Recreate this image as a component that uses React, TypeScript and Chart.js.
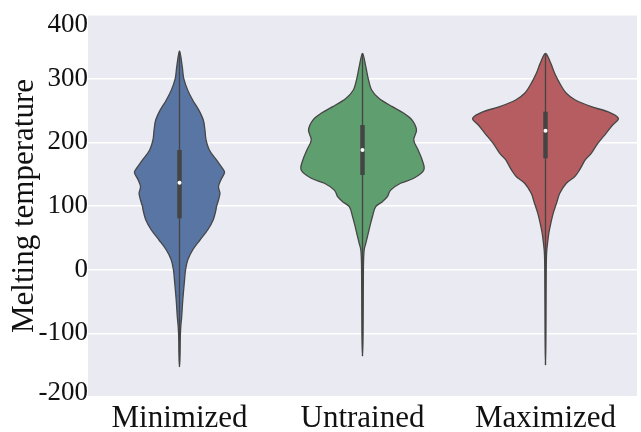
import { useEffect, useRef } from "react";
import { Chart, registerables } from "chart.js";

Chart.register(...registerables);

const categories = ["Minimized", "Untrained", "Maximized"];
const yTickValues = [-200, -100, 0, 100, 200, 300, 400];

// violin outlines: value levels (top to bottom) and half-widths (in category units)
const minimizedLevels = [343.5, 318.8, 300.6, 282, 266.5, 251, 235, 219.4, 203.7, 188, 172.3, 159, 152.3, 141, 130.3, 120, 109.4, 99, 93.7, 78, 62.3, 46.6, 30.9, 15.2, -0.5, -21.4, -47.6, -73.9, -89.6, -110.4, -131.3, -152.4];
const minimizedDensity = [0, 0.015, 0.023, 0.045, 0.072, 0.105, 0.13, 0.139, 0.145, 0.163, 0.202, 0.235, 0.246, 0.226, 0.213, 0.221, 0.213, 0.202, 0.199, 0.184, 0.154, 0.112, 0.072, 0.045, 0.033, 0.026, 0.018, 0.012, 0.007, 0.004, 0.003, 0];

const untrainedLevels = [339.8, 318.8, 300.6, 282.2, 269, 256, 245.6, 235, 219.4, 203.7, 188, 172.3, 156.6, 143.5, 135.7, 125, 114.6, 106.8, 98.9, 83.2, 67.5, 51.8, 41.4, 30.9, 15, 0, -50, -100, -135.6];
const untrainedDensity = [0, 0.018, 0.031, 0.05, 0.091, 0.163, 0.226, 0.271, 0.295, 0.28, 0.304, 0.326, 0.335, 0.28, 0.208, 0.154, 0.136, 0.109, 0.072, 0.054, 0.04, 0.027, 0.018, 0.009, 0.006, 0.005, 0.004, 0.003, 0];

const maximizedLevels = [339.8, 324, 308.4, 292.7, 277, 266.5, 256, 248.1, 237.8, 227.2, 214.2, 198.5, 182.8, 172.3, 156.6, 146, 135.7, 120, 104.2, 88.5, 72.8, 57.1, 41.4, 25.7, 0, -50, -100, -149.7];
const maximizedDensity = [0, 0.029, 0.05, 0.078, 0.114, 0.163, 0.25, 0.34, 0.398, 0.367, 0.331, 0.286, 0.25, 0.217, 0.186, 0.159, 0.114, 0.078, 0.06, 0.042, 0.029, 0.018, 0.011, 0.006, 0.004, 0.003, 0.002, 0];

const medians = [136.6, 188, 218.3];
const quartile1 = [80.7, 148.7, 174.9];
const quartile3 = [188, 227.2, 248.1];
const whiskerLow = [-152.4, -135.6, -149.7];
const whiskerHigh = [343.5, 339.8, 339.8];

const violinColors = ["#5975a4", "#5f9e6e", "#b55d60"];

const violins = [
  { levels: minimizedLevels, density: minimizedDensity },
  { levels: untrainedLevels, density: untrainedDensity },
  { levels: maximizedLevels, density: maximizedDensity },
];

const FONT = "'Liberation Serif', 'Times New Roman', serif";

function smoothClosedPath(ctx: CanvasRenderingContext2D, pts: number[][]) {
  const n = pts.length;
  ctx.moveTo(pts[0][0], pts[0][1]);
  for (let i = 0; i < n; i++) {
    const p0 = pts[(i - 1 + n) % n];
    const p1 = pts[i];
    const p2 = pts[(i + 1) % n];
    const p3 = pts[(i + 2) % n];
    const c1x = p1[0] + (p2[0] - p0[0]) / 6;
    const c1y = p1[1] + (p2[1] - p0[1]) / 6;
    const c2x = p2[0] - (p3[0] - p1[0]) / 6;
    const c2y = p2[1] - (p3[1] - p1[1]) / 6;
    ctx.bezierCurveTo(c1x, c1y, c2x, c2y, p2[0], p2[1]);
  }
  ctx.closePath();
}

const backgroundPlugin = {
  id: "bgArea",
  beforeDraw(chart: any) {
    const { ctx, chartArea } = chart;
    ctx.save();
    ctx.fillStyle = "#eaeaf2";
    ctx.fillRect(chartArea.left, chartArea.top, chartArea.right - chartArea.left, chartArea.bottom - chartArea.top);
    ctx.restore();
  },
};

const violinPlugin = {
  id: "violins",
  beforeDatasetsDraw(chart: any) {
    const { ctx, chartArea } = chart;
    const xs = chart.scales.x;
    const ys = chart.scales.y;
    ctx.save();
    ctx.beginPath();
    ctx.rect(chartArea.left, chartArea.top, chartArea.right - chartArea.left, chartArea.bottom - chartArea.top);
    ctx.clip();
    violins.forEach((v, i) => {
      const right = v.levels.map((lv, k) => [xs.getPixelForValue(i + v.density[k]), ys.getPixelForValue(lv)]);
      const left = v.levels
        .map((lv, k) => [xs.getPixelForValue(i - v.density[k]), ys.getPixelForValue(lv)])
        .slice(1, -1)
        .reverse();
      const pts = right.concat(left);
      ctx.beginPath();
      smoothClosedPath(ctx, pts);
      ctx.fillStyle = violinColors[i];
      ctx.fill();
      ctx.lineWidth = 1.3;
      ctx.strokeStyle = "#464646";
      ctx.lineJoin = "round";
      ctx.stroke();

      const cx = xs.getPixelForValue(i);
      ctx.beginPath();
      ctx.moveTo(cx, ys.getPixelForValue(whiskerHigh[i]));
      ctx.lineTo(cx, ys.getPixelForValue(whiskerLow[i]));
      ctx.lineWidth = 1.3;
      ctx.strokeStyle = "#444444";
      ctx.stroke();

      ctx.beginPath();
      ctx.moveTo(cx, ys.getPixelForValue(quartile3[i]));
      ctx.lineTo(cx, ys.getPixelForValue(quartile1[i]));
      ctx.lineWidth = 4.5;
      ctx.strokeStyle = "#444444";
      ctx.stroke();
    });
    ctx.restore();
  },
};

export default function App() {
  const ref = useRef<HTMLCanvasElement | null>(null);
  useEffect(() => {
    document.body.style.margin = "0";
    const canvas = ref.current;
    if (!canvas) return;
    const chart = new Chart(canvas, {
      type: "scatter",
      data: {
        datasets: [
          {
            label: "median",
            data: categories.map((_, i) => ({ x: i, y: medians[i] })),
            pointRadius: 2,
            pointBackgroundColor: "#ffffff",
            pointBorderWidth: 0,
            pointBorderColor: "#ffffff",
          },
        ],
      },
      options: {
        animation: false,
        responsive: false,
        devicePixelRatio: 1,
        layout: { padding: { top: 15, left: 0, right: 0, bottom: 0 } },
        plugins: { legend: { display: false }, tooltip: { enabled: false } },
        scales: {
          x: {
            type: "linear",
            min: -0.5,
            max: 2.5,
            afterBuildTicks: (scale: any) => {
              scale.ticks = categories.map((_, i) => ({ value: i }));
            },
            afterFit: (scale: any) => {
              scale.height = 35;
              scale.paddingLeft = 0;
              scale.paddingRight = 0;
            },
            grid: { display: false, drawTicks: false },
            border: { display: false },
            ticks: {
              autoSkip: false,
              maxRotation: 0,
              padding: 3,
              color: "#111111",
              font: { family: FONT, size: 31 },
              callback: (v: any) => categories[Number(v)] ?? "",
            },
          },
          y: {
            min: -200,
            max: 400,
            afterBuildTicks: (scale: any) => {
              scale.ticks = yTickValues.map((v) => ({ value: v }));
            },
            afterFit: (scale: any) => {
              scale.width = 88;
              scale.paddingTop = 0;
              scale.paddingBottom = 0;
              const orig = scale._computeLabelItems;
              if (typeof orig === "function" && !scale.__wrapped) {
                scale.__wrapped = true;
                scale._computeLabelItems = function (ca: any) {
                  const items = orig.call(this, ca);
                  try {
                    const last = items.length - 1;
                    if (items[last] && items[last].options && items[last].options.translation) {
                      items[last].options.translation[1] += 10;
                    }
                    if (items[0] && items[0].options && items[0].options.translation) {
                      items[0].options.translation[1] -= 4;
                    }
                  } catch (e) {}
                  return items;
                };
              }
            },
            grid: { color: "#ffffff", lineWidth: 1.5, drawTicks: false },
            border: { display: false },
            ticks: {
              padding: 0,
              color: "#111111",
              font: { family: FONT, size: 27 },
            },
            title: {
              display: true,
              text: "Melting temperature",
              color: "#111111",
              font: { family: FONT, size: 31 },
              padding: { top: 6, bottom: 0 },
            },
          },
        },
      },
      plugins: [backgroundPlugin, violinPlugin],
    });
    return () => chart.destroy();
  }, []);
  return (
    <div style={{ position: "absolute", left: 0, top: 0, width: 641, height: 432 }}>
      <canvas ref={ref} width={641} height={432} style={{ display: "block", width: 641, height: 432 }} />
    </div>
  );
}
